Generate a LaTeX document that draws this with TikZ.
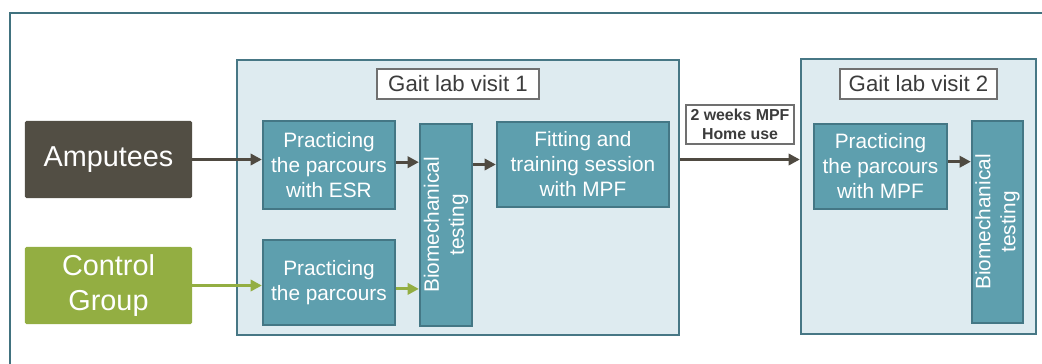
\documentclass[tikz,border=0pt]{standalone}
\usepackage{fontspec}
\setmainfont{Liberation Sans}
\usetikzlibrary{positioning}
\usetikzlibrary{arrows.meta}
\definecolor{ampcol}{HTML}{524E44}
\definecolor{arrcol}{HTML}{4F4A41}
\definecolor{ctrlcol}{HTML}{93AE42}
\definecolor{stepfill}{HTML}{5E9FAE}
\definecolor{stepdraw}{HTML}{447785}
\definecolor{visitfill}{HTML}{DEEBF0}
\definecolor{visitdraw}{HTML}{477785}
\definecolor{framecol}{HTML}{41727F}
\definecolor{titledraw}{HTML}{707070}
\definecolor{titletext}{HTML}{3C3C3C}
\tikzset{
    boxamp/.style = {rectangle, rounded corners=1pt, fill=ampcol, text=white, align=center, inner sep=0pt, font=\fontsize{20.5}{25}\selectfont},
    boxctrl/.style = {rectangle, rounded corners=1pt, fill=ctrlcol, text=white, align=center, inner sep=0pt, font=\fontsize{20.5}{25}\selectfont},
    boxstep/.style = {rectangle, line width=1.6pt, draw=stepdraw, fill=stepfill, text=white, align=center, inner sep=0pt, font=\fontsize{14.8}{17.8}\selectfont},
    boxvisit/.style = {rectangle, line width=1.6pt, draw=visitdraw, fill=visitfill, inner sep=0pt},
    boxtitle/.style = {rectangle, line width=0.9pt, draw=titledraw, fill=white, text=titletext, inner sep=0pt, font=\fontsize{15.8}{19}\selectfont},
    boxnote/.style = {rectangle, line width=0.9pt, draw=titledraw, fill=white, text=titletext, align=center, inner sep=0pt, font=\fontsize{11.3}{13.3}\selectfont\bfseries},
    edgea/.style = {-{Triangle[length=8pt,width=8pt]}, line width=2.2pt, arrcol},
    edgec/.style = {-{Triangle[length=8pt,width=8pt]}, line width=2.2pt, ctrlcol}
}

\begin{document}
\begin{tikzpicture}[x=0.025cm, y=-0.025cm]
  \useasboundingbox (0,0) rectangle (1042,363);
  % outer frame
  \draw[framecol, line width=2pt] (10,380) -- (10,13) -- (1060,13);

  % groups
  \node[boxamp, minimum width=4.175cm, minimum height=1.925cm] (amp) at (108.5,159.5) {Amputees};
  \node[boxctrl, minimum width=4.175cm, minimum height=1.925cm] (ctrl) at (108.5,285.5) {Control\\Group};

  % visit 1
  \node[boxvisit, minimum width=11.05cm, minimum height=6.875cm] (visita) at (458,197.5) {};
  \node[boxtitle, minimum width=4.05cm, minimum height=0.75cm] (titlea) at (458,84) {Gait lab visit 1};
  \node[boxstep, minimum width=3.3cm, minimum height=2.2cm] (esr) at (329,165) {Practicing\\the parcours\\with ESR};
  \node[boxstep, minimum width=3.3cm, minimum height=2.125cm] (parc) at (329,282.5) {Practicing\\the parcours};
  \node[boxstep, rotate=90, minimum width=5.05cm, minimum height=1.3cm] (bioa) at (446,225) {Biomechanical\\testing};
  \node[boxstep, minimum width=4.3cm, minimum height=2.125cm] (fit) at (583,164.5) {Fitting and\\training session\\with MPF};

  % home use
  \node[boxnote, minimum width=2.7cm, minimum height=0.975cm] (home) at (740,124.5) {2 weeks MPF\\Home use};

  % visit 2
  \node[boxvisit, minimum width=5.875cm, minimum height=6.875cm] (visitb) at (918.5,196.5) {};
  \node[boxtitle, minimum width=3.925cm, minimum height=0.75cm] (titleb) at (918.5,84) {Gait lab visit 2};
  \node[boxstep, minimum width=3.325cm, minimum height=2.125cm] (mpf) at (880.5,166.5) {Practicing\\the parcours\\with MPF};
  \node[boxstep, rotate=90, minimum width=5.05cm, minimum height=1.275cm] (biob) at (997.5,222) {Biomechanical\\testing};

  % arrows (rotated nodes: north is on the left)
  \draw[edgea] (amp.east) -- (amp.east -| esr.west);
  \draw[edgea] ([yshift=0.07cm]esr.east) -- ([yshift=0.07cm]esr.east -| bioa.north);
  \draw[edgea] (fit.west -| bioa.south) -- (fit.west);
  \draw[edgea] (amp.east -| visita.east) -- (amp.east -| visitb.west);
  \draw[edgea] ([yshift=0.12cm]mpf.east) -- ([yshift=0.12cm]mpf.east -| biob.north);
  \draw[edgec] (ctrl.east) -- (ctrl.east -| parc.west);
  \draw[edgec] ([yshift=-0.16cm]parc.east) -- ([yshift=-0.16cm]parc.east -| bioa.north);
\end{tikzpicture}
\end{document}
